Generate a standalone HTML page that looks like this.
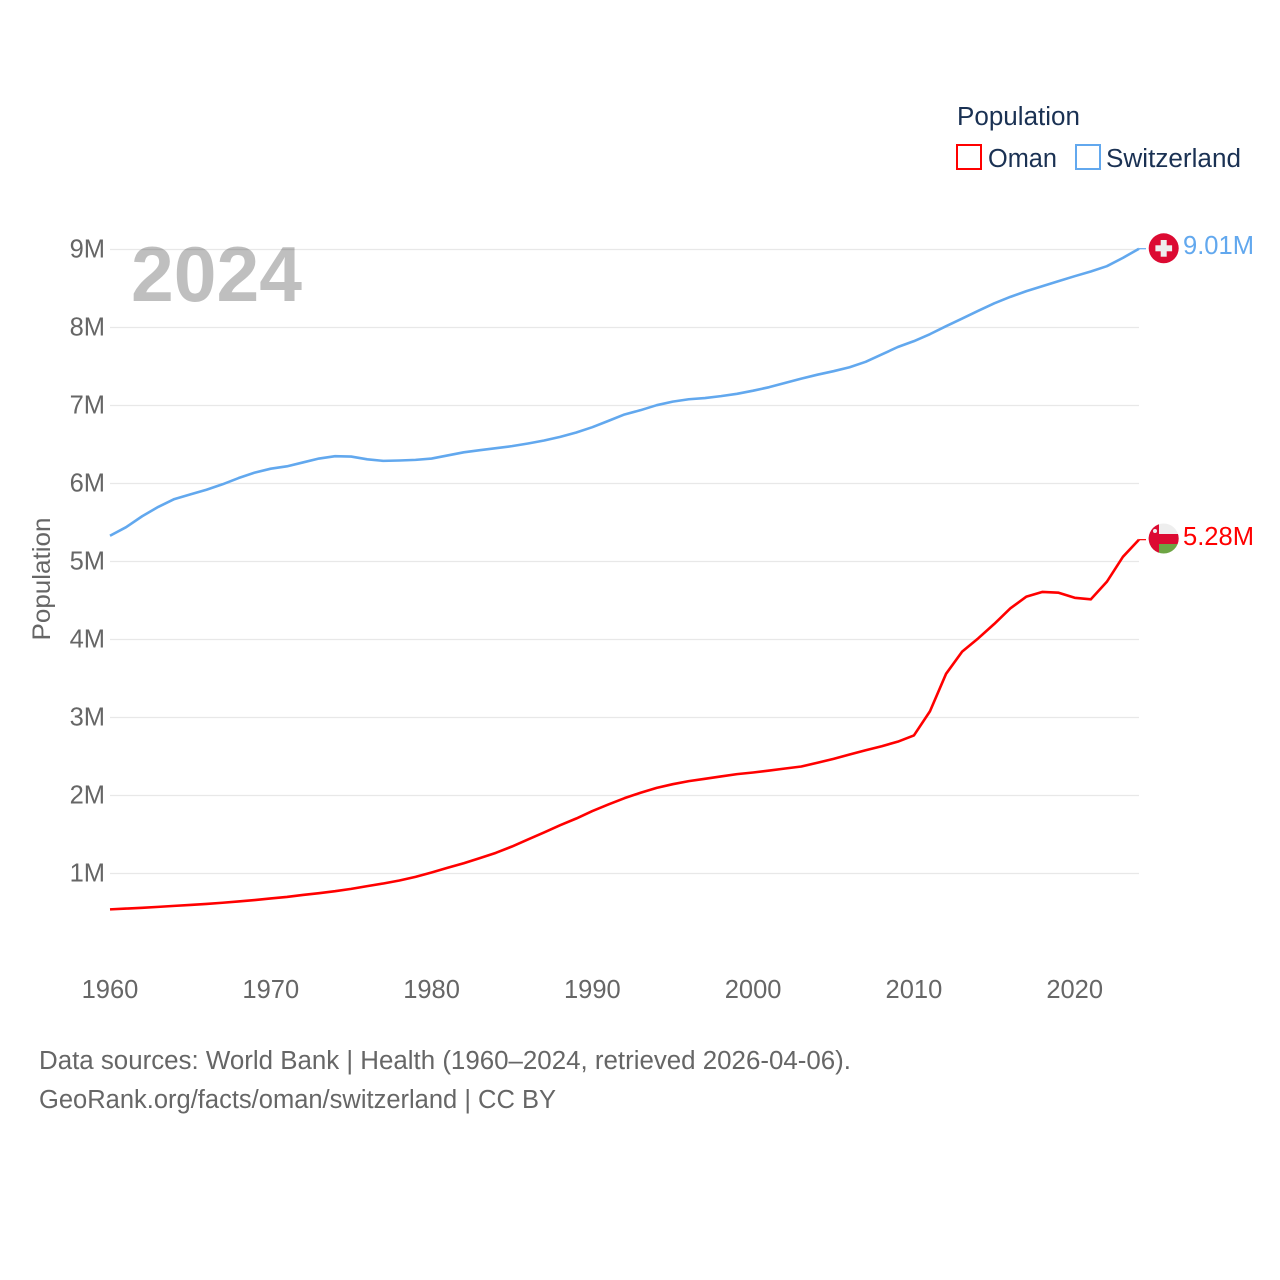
<!DOCTYPE html>
<html lang="en">
<head>
<meta charset="utf-8">
<title>Population: Oman and Switzerland</title>
<style>
html,body{margin:0;padding:0;background:#fff;width:1280px;height:1280px;overflow:hidden}
svg{display:block}
text{font-family:"Liberation Sans",sans-serif}
</style>
</head>
<body>
<svg id="chart" width="1280" height="1280" viewBox="0 0 1280 1280" xmlns="http://www.w3.org/2000/svg">
  <defs>
    <clipPath id="flag-clip-ch"><circle cx="1163.7" cy="248.3" r="15"/></clipPath>
    <clipPath id="flag-clip-om"><circle cx="1163.7" cy="538.5" r="15"/></clipPath>
  </defs>
  <g id="grid"></g>
  <g id="y-ticks"></g>
  <g id="x-ticks"></g>
  <text x="50" y="579" transform="rotate(-90 50 579)" text-anchor="middle" font-size="25" fill="#666" textLength="123" lengthAdjust="spacingAndGlyphs">Population</text>
  <text x="131" y="301" font-size="78" font-weight="700" fill="#000" fill-opacity="0.25" textLength="171" lengthAdjust="spacingAndGlyphs">2024</text>

  <g id="series"></g>

  <g clip-path="url(#flag-clip-ch)">
    <rect x="1148" y="233" width="31" height="31" fill="#dc0a32"/>
    <rect x="1160.7" y="240" width="6" height="16.7" fill="#eee"/>
    <rect x="1155.4" y="245.3" width="16.7" height="6" fill="#eee"/>
  </g>
  <g clip-path="url(#flag-clip-om)">
    <rect x="1148" y="523" width="31" height="11" fill="#eee"/>
    <rect x="1148" y="534" width="31" height="10" fill="#dc0a32"/>
    <rect x="1148" y="544" width="31" height="11" fill="#6da544"/>
    <rect x="1148" y="523" width="11" height="32" fill="#dc0a32"/>
    <circle cx="1155" cy="531" r="2" fill="#eee"/>
  </g>

  <text x="1183" y="254" font-size="25.5" fill="#62a8ee" textLength="71" lengthAdjust="spacingAndGlyphs">9.01M</text>
  <text x="1183" y="545" font-size="25.5" fill="#ff0000" textLength="71" lengthAdjust="spacingAndGlyphs">5.28M</text>

  <g>
    <text x="957" y="125" font-size="25.5" fill="#1a3153" textLength="123" lengthAdjust="spacingAndGlyphs">Population</text>
    <rect x="957" y="145" width="24" height="24" fill="none" stroke="#ff0000" stroke-width="2"/>
    <text x="988" y="167" font-size="25.5" fill="#1a3153" textLength="69" lengthAdjust="spacingAndGlyphs">Oman</text>
    <rect x="1076" y="145" width="24" height="24" fill="none" stroke="#62a8ee" stroke-width="2"/>
    <text x="1106" y="167" font-size="25.5" fill="#1a3153" textLength="135" lengthAdjust="spacingAndGlyphs">Switzerland</text>
  </g>

  <text x="39" y="1069" font-size="25.5" fill="#666" textLength="812" lengthAdjust="spacingAndGlyphs">Data sources: World Bank | Health (1960–2024, retrieved 2026-04-06).</text>
  <text x="39" y="1108" font-size="25.5" fill="#666" textLength="517" lengthAdjust="spacingAndGlyphs">GeoRank.org/facts/oman/switzerland | CC BY</text>
</svg>
<script>
const startYear = 1960;
const yTickValues = [1, 2, 3, 4, 5, 6, 7, 8, 9];
const yTickLabels = ['1M', '2M', '3M', '4M', '5M', '6M', '7M', '8M', '9M'];
const xTickYears = [1960, 1970, 1980, 1990, 2000, 2010, 2020];
const xTickLabels = ['1960', '1970', '1980', '1990', '2000', '2010', '2020'];
const omanValues = [0.54,0.55,0.56,0.572,0.585,0.597,0.61,0.625,0.642,0.66,0.68,0.70,0.725,0.748,0.773,0.803,0.838,0.872,0.91,0.957,1.013,1.073,1.132,1.197,1.265,1.346,1.436,1.526,1.62,1.705,1.80,1.885,1.966,2.035,2.098,2.145,2.184,2.214,2.244,2.274,2.295,2.32,2.346,2.372,2.42,2.47,2.526,2.58,2.632,2.69,2.77,3.08,3.56,3.845,4.015,4.2,4.4,4.55,4.61,4.6,4.535,4.515,4.74,5.06,5.28];
const switzerlandValues = [5.33,5.44,5.58,5.70,5.80,5.86,5.92,5.99,6.07,6.14,6.19,6.22,6.27,6.32,6.35,6.345,6.31,6.29,6.295,6.303,6.32,6.36,6.40,6.427,6.453,6.479,6.513,6.551,6.598,6.654,6.722,6.803,6.885,6.94,7.004,7.05,7.08,7.095,7.12,7.15,7.19,7.235,7.29,7.345,7.395,7.44,7.49,7.56,7.654,7.75,7.825,7.915,8.017,8.115,8.214,8.31,8.393,8.466,8.53,8.594,8.658,8.718,8.786,8.893,9.01];

const NS = 'http://www.w3.org/2000/svg';
const plotLeft = 110, plotRight = 1139;
function xScale(year) { return plotLeft + (year - startYear) * (plotRight - plotLeft) / 64; }
function yScale(v) { return 951.5 - v * 78; }
function make(tag, attrs, parent) {
  const el = document.createElementNS(NS, tag);
  for (const k in attrs) el.setAttribute(k, attrs[k]);
  parent.appendChild(el);
  return el;
}
const gridG = document.getElementById('grid');
const yG = document.getElementById('y-ticks');
const xG = document.getElementById('x-ticks');
const seriesG = document.getElementById('series');

yTickValues.forEach(function (v, i) {
  const line = make('line', {x1: plotLeft, x2: plotRight, y1: yScale(v), y2: yScale(v), stroke: '#e8e8e8', 'stroke-width': 1.2}, gridG);
  
  
  const t = make('text', {x: 105, y: yScale(v) + 8, 'text-anchor': 'end', 'font-size': 25.5, fill: '#666'}, yG);
  t.textContent = yTickLabels[i];
  
  
});
xTickYears.forEach(function (year, i) {
  const t = make('text', {x: xScale(year), y: 998, 'text-anchor': 'middle', 'font-size': 25.5, fill: '#666'}, xG);
  t.textContent = xTickLabels[i];
  
  
});
function drawSeries(values, color, name) {
  const pts = values.map(function (v, i) { return xScale(startYear + i).toFixed(2) + ',' + yScale(v).toFixed(2); });
  const lastY = yScale(values[values.length - 1]).toFixed(2);
  const line = make('polyline', {points: pts.join(' '), fill: 'none', stroke: color, 'stroke-width': 2.6, 'stroke-linejoin': 'round'}, seriesG);
  
  
  const stub = make('line', {x1: plotRight, x2: plotRight + 7, y1: lastY, y2: lastY, stroke: color, 'stroke-width': 1.2}, seriesG);
  
  
}
drawSeries(omanValues, '#ff0000', 'oman');
drawSeries(switzerlandValues, '#62a8ee', 'switzerland');
</script>
</body>
</html>
